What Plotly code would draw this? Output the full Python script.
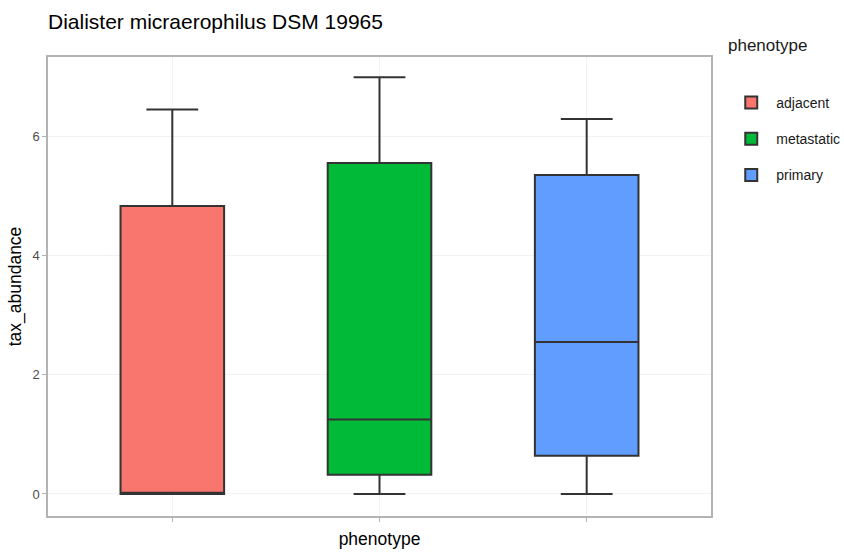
import plotly.graph_objects as go

# Box summary statistics per phenotype
phenotypes = ["adjacent", "metastatic", "primary"]
lower_whisker = [0.0, 0.0, 0.0]
q1_values = [0.0, 0.32, 0.64]
median_values = [0.02, 1.25, 2.55]
q3_values = [4.83, 5.55, 5.35]
upper_whisker = [6.45, 6.99, 6.29]
fill_colors = ["#F8766D", "#00BA38", "#619CFF"]

y_ticks = [0, 2, 4, 6]

fig = go.Figure()
for i, name in enumerate(phenotypes):
    fig.add_trace(go.Box(
        name=name,
        x=[name],
        q1=[q1_values[i]],
        median=[median_values[i]],
        q3=[q3_values[i]],
        lowerfence=[lower_whisker[i]],
        upperfence=[upper_whisker[i]],
        width=0.5,
        whiskerwidth=0.5,
        fillcolor=fill_colors[i],
        line=dict(color="#333333", width=2),
        boxpoints=False,
        legendgroup=name,
        hoverinfo="y",
    ))

# Legend heading drawn separately so the key spacing can be set freely
fig.add_annotation(
    text="phenotype",
    xref="paper", yref="paper",
    x=1 + (726 - 711) / 663, xanchor="left",
    y=1 + (57 - 45) / 459, yanchor="middle",
    showarrow=False,
    font=dict(size=17, color="#1a1a1a"),
)

fig.update_layout(
    width=844,
    height=556,
    margin=dict(l=48, r=133, t=57, b=40, autoexpand=False),
    paper_bgcolor="white",
    plot_bgcolor="white",
    font=dict(family="Liberation Sans, Arial, sans-serif", color="#1a1a1a"),
    title=dict(
        text="Dialister micraerophilus DSM 19965",
        x=48 / 844, xanchor="left",
        y=1 - 22 / 556, yanchor="middle",
        font=dict(size=21, color="#000000"),
    ),
    boxmode="overlay",
    showlegend=True,
    legend=dict(
        x=1.023, xanchor="left",
        y=0.9346, yanchor="top",
        font=dict(size=14, color="#1a1a1a"),
        tracegroupgap=15,
        itemwidth=40,
        bgcolor="rgba(0,0,0,0)",
    ),
    xaxis=dict(
        type="category",
        categoryorder="array",
        categoryarray=phenotypes,
        range=[-0.6, 2.6],
        showticklabels=False,
        ticks="outside",
        ticklen=4,
        tickcolor="#b3b3b3",
        showgrid=True,
        gridcolor="#f2f2f2",
        gridwidth=1,
        zeroline=False,
        showline=True,
        linecolor="#b3b3b3",
        linewidth=1.5,
        mirror=True,
        automargin=False,
        title=dict(text="phenotype", font=dict(size=17.5, color="#000000"), standoff=12),
        fixedrange=True,
    ),
    yaxis=dict(
        range=[-0.37, 7.33],
        tickvals=y_ticks,
        ticktext=[str(v) for v in y_ticks],
        ticks="outside",
        ticklen=4,
        tickcolor="#b3b3b3",
        tickfont=dict(size=13, color="#4d4d4d"),
        showgrid=True,
        gridcolor="#f2f2f2",
        gridwidth=1,
        zeroline=False,
        showline=True,
        linecolor="#b3b3b3",
        linewidth=1.5,
        mirror=True,
        automargin=False,
        title=dict(text="tax_abundance", font=dict(size=17.5, color="#000000"), standoff=6),
        fixedrange=True,
    ),
)

fig.write_html("out.html")
